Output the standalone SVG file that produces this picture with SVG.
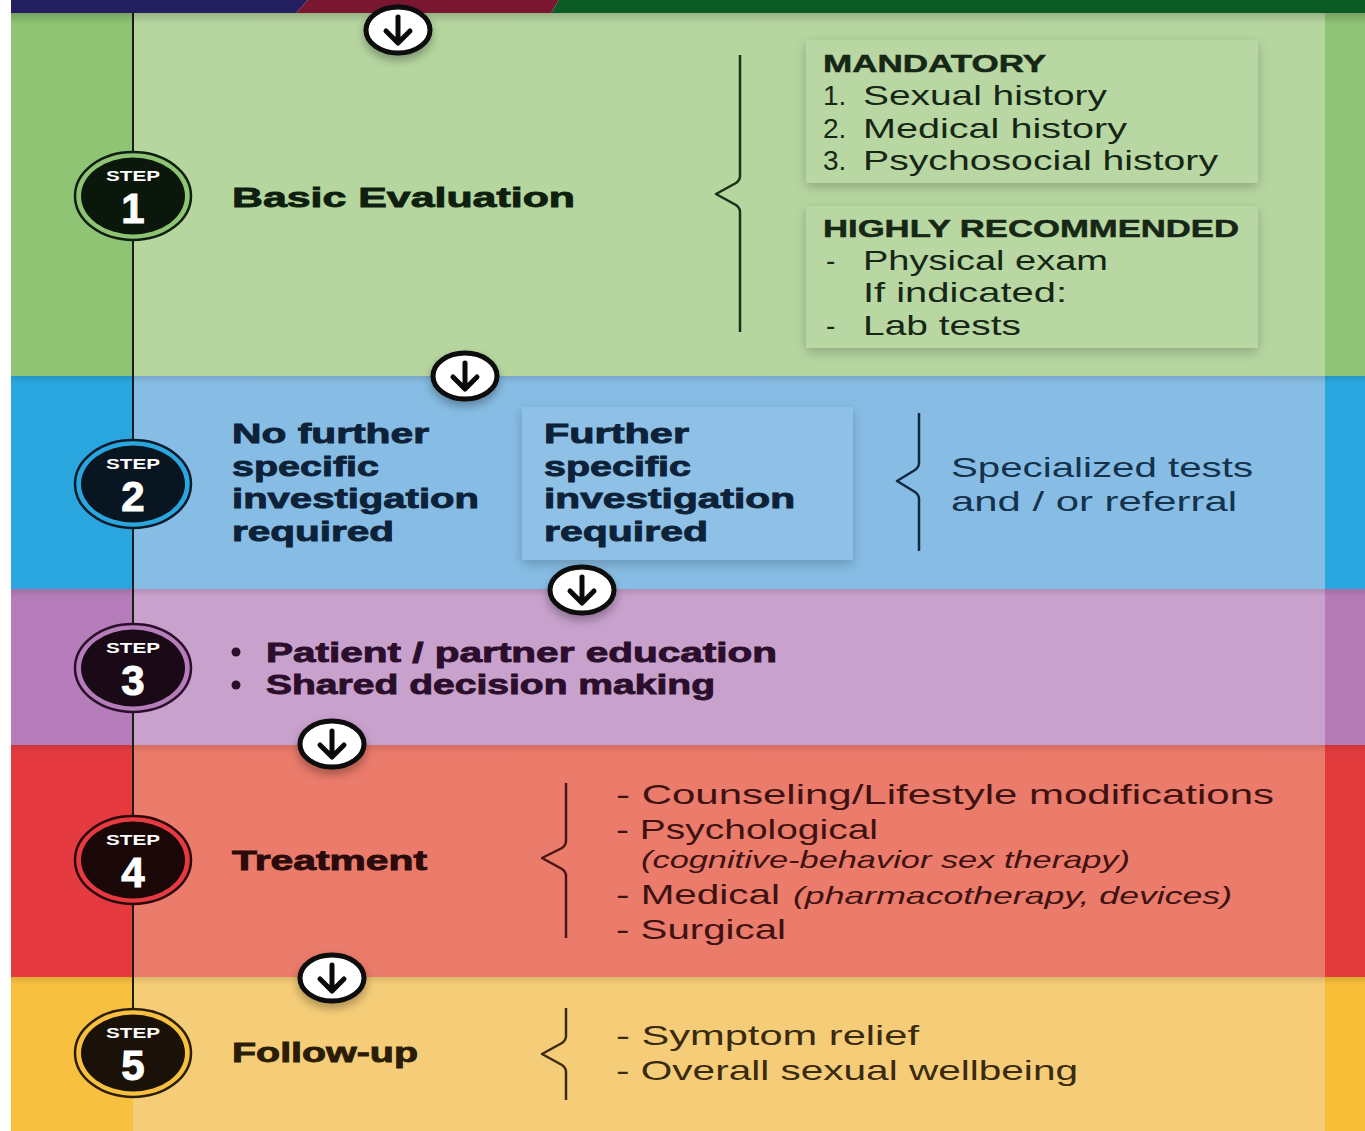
<svg xmlns="http://www.w3.org/2000/svg" width="1365" height="1131" viewBox="0 0 1365 1131">
<defs>
<style>
.ttl{font-family:"Liberation Sans",Arial,sans-serif;font-weight:700;font-size:28.5px;stroke-width:0.9px;}
.bold{font-family:"Liberation Sans",Arial,sans-serif;font-weight:700;font-size:24px;stroke-width:0.5px;}
.reg{font-family:"Liberation Sans",Arial,sans-serif;font-weight:400;font-size:28px;}
.ital{font-family:"Liberation Sans",Arial,sans-serif;font-weight:400;font-style:italic;font-size:24px;}
.stp{font-family:"Liberation Sans",Arial,sans-serif;font-weight:700;font-size:14px;fill:#fff;text-anchor:middle;}
.num{font-family:"Liberation Sans",Arial,sans-serif;font-weight:700;font-size:42px;fill:#fff;stroke:#fff;stroke-width:1px;text-anchor:middle;}
.brace{fill:none;stroke-width:2.5;stroke-linejoin:round;}
.arr{fill:#fff;stroke:#0a0a0a;stroke-width:5;}
.arrh{fill:none;stroke:#0a0a0a;stroke-width:5;stroke-linecap:round;stroke-linejoin:round;}
</style>
<filter id="sh" x="-20%" y="-20%" width="140%" height="150%">
<feDropShadow dx="0" dy="4" stdDeviation="6" flood-color="#000" flood-opacity="0.22"/>
</filter>
<filter id="ash" x="-40%" y="-40%" width="180%" height="200%">
<feDropShadow dx="0" dy="5" stdDeviation="5" flood-color="#000" flood-opacity="0.3"/>
</filter>
<linearGradient id="topsh" x1="0" y1="0" x2="0" y2="1">
<stop offset="0" stop-color="#000" stop-opacity="0.18"/>
<stop offset="1" stop-color="#000" stop-opacity="0"/>
</linearGradient>
</defs>

<rect x="0" y="0" width="1365" height="1131" fill="#fff"/>

<g id="bands">
<rect x="11" y="12" width="122" height="364" fill="#8ec474"/>
<rect x="133" y="12" width="1192" height="364" fill="#b6d6a0"/>
<rect x="1325" y="12" width="40" height="364" fill="#8fc377"/>

<rect x="11" y="376" width="122" height="213" fill="#2aa6df"/>
<rect x="133" y="376" width="1192" height="213" fill="#87bde4"/>
<rect x="1325" y="376" width="40" height="213" fill="#29a8df"/>

<rect x="11" y="589" width="122" height="156" fill="#b57db9"/>
<rect x="133" y="589" width="1192" height="156" fill="#c8a1cd"/>
<rect x="1325" y="589" width="40" height="156" fill="#b47bb7"/>

<rect x="11" y="745" width="122" height="232" fill="#e53b40"/>
<rect x="133" y="745" width="1192" height="232" fill="#eb7b6b"/>
<rect x="1325" y="745" width="40" height="232" fill="#e33c3f"/>

<rect x="11" y="977" width="122" height="154" fill="#f8c03f"/>
<rect x="133" y="977" width="1192" height="154" fill="#f5cd78"/>
<rect x="1325" y="977" width="40" height="154" fill="#f6bd37"/>

<rect x="11" y="12" width="1354" height="12" fill="url(#topsh)"/>
<rect x="11" y="376" width="1354" height="8" fill="url(#topsh)" opacity="0.6"/>
<rect x="11" y="589" width="1354" height="8" fill="url(#topsh)" opacity="0.6"/>
<rect x="11" y="745" width="1354" height="8" fill="url(#topsh)" opacity="0.6"/>
<rect x="11" y="977" width="1354" height="8" fill="url(#topsh)" opacity="0.6"/>

<polygon points="11,0 308,0 296,13 11,13" fill="#24205f"/>
<polygon points="308,0 559,0 551,13 296,13" fill="#7b1631"/>
<polygon points="559,0 1365,0 1365,13 551,13" fill="#0a5a25"/>
</g>

<g id="connectors">
<line x1="133" y1="12" x2="133" y2="1010" stroke="#1c1c1c" stroke-width="2"/>
<g filter="url(#ash)">
<ellipse class="arr" cx="398" cy="30" rx="32" ry="23"/>
<ellipse class="arr" cx="465" cy="376" rx="32" ry="23"/>
<ellipse class="arr" cx="582" cy="590" rx="32" ry="23"/>
<ellipse class="arr" cx="332" cy="744" rx="32" ry="23"/>
<ellipse class="arr" cx="332" cy="978" rx="32" ry="23"/>
</g>
<path class="arrh" d="M398 17V42M386 31L398 43L410 31"/>
<path class="arrh" d="M465 363V388M453 377L465 389L477 377"/>
<path class="arrh" d="M582 577V602M570 591L582 603L594 591"/>
<path class="arrh" d="M332 731V756M320 745L332 757L344 745"/>
<path class="arrh" d="M332 965V990M320 979L332 991L344 979"/>
</g>

<g id="step1">
<ellipse cx="133" cy="196" rx="58" ry="44" fill="#8ec474" stroke="#0f1f0f" stroke-width="2.5"/>
<ellipse cx="133" cy="196" rx="52" ry="38.5" fill="#0c170c"/>
<text class="stp" x="133" y="181" textLength="54" lengthAdjust="spacingAndGlyphs">STEP</text>
<text class="num" x="133" y="223">1</text>
<text class="ttl" x="232" y="207" fill="#0f1f0f" stroke="#0f1f0f" textLength="343" lengthAdjust="spacingAndGlyphs">Basic Evaluation</text>
<path class="brace" stroke="#1a2e1a" d="M740 55V176Q740 180 736 183L716 194L736 205Q740 208 740 212V332"/>
<rect x="806" y="40" width="452" height="143" fill="#b9d7a3" filter="url(#sh)"/>
<rect x="806" y="206" width="452" height="142" fill="#b9d7a3" filter="url(#sh)"/>
<g fill="#162716" stroke="#162716">
<text class="bold" x="823" y="72" textLength="223" lengthAdjust="spacingAndGlyphs">MANDATORY</text>
<text class="reg" x="823" y="105" stroke="none">1.</text>
<text class="reg" x="863" y="105" stroke="none" textLength="244" lengthAdjust="spacingAndGlyphs">Sexual history</text>
<text class="reg" x="823" y="138" stroke="none">2.</text>
<text class="reg" x="863" y="138" stroke="none" textLength="264" lengthAdjust="spacingAndGlyphs">Medical history</text>
<text class="reg" x="823" y="170" stroke="none">3.</text>
<text class="reg" x="863" y="170" stroke="none" textLength="355" lengthAdjust="spacingAndGlyphs">Psychosocial history</text>
<text class="bold" x="823" y="237" textLength="416" lengthAdjust="spacingAndGlyphs">HIGHLY RECOMMENDED</text>
<text class="reg" x="826" y="270" stroke="none">-</text>
<text class="reg" x="863" y="270" stroke="none" textLength="245" lengthAdjust="spacingAndGlyphs">Physical exam</text>
<text class="reg" x="863" y="302" stroke="none" textLength="204" lengthAdjust="spacingAndGlyphs">If indicated:</text>
<text class="reg" x="826" y="335" stroke="none">-</text>
<text class="reg" x="863" y="335" stroke="none" textLength="158" lengthAdjust="spacingAndGlyphs">Lab tests</text>
</g>
</g>

<g id="step2">
<ellipse cx="133" cy="484" rx="58" ry="44" fill="#2aa6df" stroke="#0b1a2a" stroke-width="2.5"/>
<ellipse cx="133" cy="484" rx="52" ry="38.5" fill="#0a1522"/>
<text class="stp" x="133" y="469" textLength="54" lengthAdjust="spacingAndGlyphs">STEP</text>
<text class="num" x="133" y="511">2</text>
<g fill="#0d2238" stroke="#0d2238">
<text class="ttl" x="232" y="443" textLength="197" lengthAdjust="spacingAndGlyphs">No further</text>
<text class="ttl" x="232" y="476" textLength="147" lengthAdjust="spacingAndGlyphs">specific</text>
<text class="ttl" x="232" y="508" textLength="247" lengthAdjust="spacingAndGlyphs">investigation</text>
<text class="ttl" x="232" y="541" textLength="162" lengthAdjust="spacingAndGlyphs">required</text>
</g>
<rect x="522" y="407" width="331" height="153" fill="#8fc1e7" filter="url(#sh)"/>
<g fill="#0d2238" stroke="#0d2238">
<text class="ttl" x="544" y="443" textLength="145" lengthAdjust="spacingAndGlyphs">Further</text>
<text class="ttl" x="544" y="476" textLength="147" lengthAdjust="spacingAndGlyphs">specific</text>
<text class="ttl" x="544" y="508" textLength="251" lengthAdjust="spacingAndGlyphs">investigation</text>
<text class="ttl" x="544" y="541" textLength="164" lengthAdjust="spacingAndGlyphs">required</text>
</g>
<path class="brace" stroke="#13283e" d="M919 413V463Q919 467 915 470L897 481L915 492Q919 495 919 499V551"/>
<g fill="#15324d">
<text class="reg" x="951" y="477" textLength="302" lengthAdjust="spacingAndGlyphs">Specialized tests</text>
<text class="reg" x="951" y="511" textLength="286" lengthAdjust="spacingAndGlyphs">and / or referral</text>
</g>
</g>

<g id="step3">
<ellipse cx="133" cy="668" rx="58" ry="44" fill="#b57db9" stroke="#2a0f2a" stroke-width="2.5"/>
<ellipse cx="133" cy="668" rx="52" ry="38.5" fill="#1a0a18"/>
<text class="stp" x="133" y="653" textLength="54" lengthAdjust="spacingAndGlyphs">STEP</text>
<text class="num" x="133" y="695">3</text>
<g fill="#2b0e2b" stroke="#2b0e2b">
<circle cx="236" cy="652" r="4.5" stroke="none"/>
<circle cx="236" cy="685" r="4.5" stroke="none"/>
<text class="ttl" x="266" y="662" textLength="511" lengthAdjust="spacingAndGlyphs">Patient / partner education</text>
<text class="ttl" x="266" y="694" textLength="449" lengthAdjust="spacingAndGlyphs">Shared decision making</text>
</g>
</g>

<g id="step4">
<ellipse cx="133" cy="860" rx="58" ry="44" fill="#e53b40" stroke="#2a0808" stroke-width="2.5"/>
<ellipse cx="133" cy="860" rx="52" ry="38.5" fill="#1a0707"/>
<text class="stp" x="133" y="845" textLength="54" lengthAdjust="spacingAndGlyphs">STEP</text>
<text class="num" x="133" y="887">4</text>
<text class="ttl" x="232" y="870" fill="#2a0a0a" stroke="#2a0a0a" textLength="195" lengthAdjust="spacingAndGlyphs">Treatment</text>
<path class="brace" stroke="#4a1414" d="M566 783V841Q566 845 562 848L542 858L562 869Q566 872 566 876V938"/>
<g fill="#3f1212">
<text class="reg" x="616" y="804" textLength="658" lengthAdjust="spacingAndGlyphs">- Counseling/Lifestyle modifications</text>
<text class="reg" x="616" y="839" textLength="262" lengthAdjust="spacingAndGlyphs">- Psychological</text>
<text class="ital" x="641" y="868" textLength="489" lengthAdjust="spacingAndGlyphs">(cognitive-behavior sex therapy)</text>
<text class="reg" x="616" y="904" textLength="164" lengthAdjust="spacingAndGlyphs">- Medical</text>
<text class="ital" x="793" y="904" textLength="439" lengthAdjust="spacingAndGlyphs">(pharmacotherapy, devices)</text>
<text class="reg" x="616" y="939" textLength="170" lengthAdjust="spacingAndGlyphs">- Surgical</text>
</g>
</g>

<g id="step5">
<ellipse cx="133" cy="1053" rx="58" ry="44" fill="#f8c03f" stroke="#2a1e08" stroke-width="2.5"/>
<ellipse cx="133" cy="1053" rx="52" ry="38.5" fill="#1a1208"/>
<text class="stp" x="133" y="1038" textLength="54" lengthAdjust="spacingAndGlyphs">STEP</text>
<text class="num" x="133" y="1080">5</text>
<text class="ttl" x="232" y="1062" fill="#2a1d08" stroke="#2a1d08" textLength="186" lengthAdjust="spacingAndGlyphs">Follow-up</text>
<path class="brace" stroke="#3d2b10" d="M566 1008V1036Q566 1040 562 1043L542 1054L562 1065Q566 1068 566 1072V1100"/>
<g fill="#3a2a10">
<text class="reg" x="616" y="1045" textLength="303" lengthAdjust="spacingAndGlyphs">- Symptom relief</text>
<text class="reg" x="616" y="1080" textLength="462" lengthAdjust="spacingAndGlyphs">- Overall sexual wellbeing</text>
</g>
</g>
</svg>
